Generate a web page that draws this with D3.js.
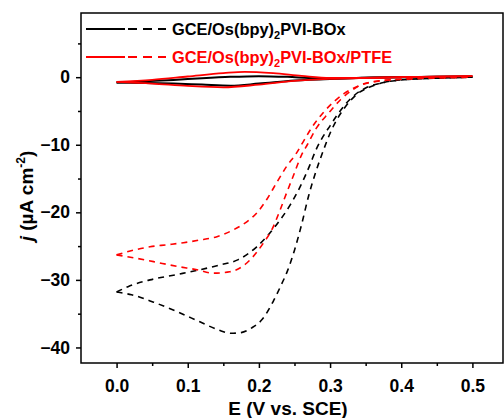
<!DOCTYPE html>
<html>
<head>
<meta charset="utf-8">
<script src="https://cdn.jsdelivr.net/npm/d3@7"></script>
<style>
  body { margin: 0; background: #fff; }
  text { font-family: "Liberation Sans", Arial, sans-serif; font-weight: bold; }
</style>
</head>
<body>
<div id="chart"></div>
<script>
(function() {
  "use strict";

  // CV loops, each branch listed in increasing E (V vs. SCE), j in uA cm-2
  var blackCvFwdE = [0, 0.04, 0.08, 0.12, 0.16, 0.2, 0.25, 0.3, 0.35, 0.4, 0.45, 0.5];
  var blackCvFwdJ = [-0.8, -0.85, -0.95, -1.1, -1.25, -0.95, -0.5, -0.25, -0.1, 0, 0.05, 0.1];
  var blackCvRevE = [0, 0.04, 0.08, 0.12, 0.16, 0.2, 0.24, 0.28, 0.32, 0.36, 0.4, 0.45, 0.5];
  var blackCvRevJ = [-0.8, -0.6, -0.4, -0.15, 0.05, 0.15, 0.05, -0.15, -0.15, -0.05, 0, 0.05, 0.1];

  var redCvFwdE = [0, 0.05, 0.1, 0.15, 0.2, 0.25, 0.3, 0.4, 0.5];
  var redCvFwdJ = [-0.7, -0.95, -1.3, -1.5, -1.1, -0.55, -0.25, 0, 0.15];
  var redCvRevE = [0, 0.05, 0.1, 0.15, 0.18, 0.22, 0.26, 0.3, 0.35, 0.4, 0.5];
  var redCvRevJ = [-0.7, -0.4, 0.1, 0.6, 0.8, 0.6, 0.2, -0.1, -0.1, 0, 0.15];

  // catalytic curves (dashed)
  var blackCatFwdE = [0, 0.021, 0.052, 0.085, 0.117, 0.143, 0.16, 0.175, 0.19, 0.205, 0.22, 0.232, 0.24,
    0.25, 0.26, 0.27, 0.28, 0.29, 0.3, 0.31, 0.32, 0.338, 0.355, 0.375, 0.4, 0.45, 0.5];
  var blackCatFwdJ = [-31.8, -32.2, -33.3, -34.7, -36.2, -37.4, -37.9, -37.8, -37.1, -35.8, -33.2, -30.6, -28.7,
    -25.6, -21.8, -17.5, -14, -11, -8.3, -6.2, -4.6, -2.5, -1.5, -0.8, -0.4, -0.15, 0];
  var blackCatRevE = [0, 0.016, 0.047, 0.085, 0.117, 0.145, 0.171, 0.197, 0.225, 0.244, 0.258, 0.272,
    0.28, 0.29, 0.3, 0.31, 0.32, 0.335, 0.35, 0.37, 0.4, 0.45, 0.5];
  var blackCatRevJ = [-31.8, -31, -30, -29.2, -28.5, -27.8, -27, -25.1, -21.8, -18.9, -16.2, -12.9,
    -10.8, -8.8, -7.2, -5.6, -4.2, -2.6, -1.6, -0.9, -0.4, -0.15, 0];

  var redCatFwdE = [0, 0.028, 0.052, 0.085, 0.113, 0.136, 0.159, 0.183, 0.206, 0.218, 0.23, 0.239,
    0.248, 0.26, 0.268, 0.281, 0.298, 0.315, 0.33, 0.342, 0.365, 0.4, 0.45, 0.5];
  var redCatFwdJ = [-26.3, -26.8, -27.3, -28, -28.5, -29, -28.8, -27.5, -24.6, -22.6, -19.6, -17.1,
    -14.7, -11.5, -10, -7.5, -5.3, -3.3, -2, -1.2, -0.6, -0.3, -0.1, 0];
  var redCatRevE = [0, 0.024, 0.047, 0.071, 0.094, 0.117, 0.141, 0.164, 0.183, 0.197, 0.211, 0.225,
    0.239, 0.253, 0.262, 0.274, 0.29, 0.32, 0.34, 0.36, 0.4, 0.45, 0.5];
  var redCatRevJ = [-26.3, -25.6, -25.1, -24.8, -24.5, -24.1, -23.6, -22.6, -21.4, -20.1, -18.1, -15.6,
    -13.2, -11.2, -9.6, -7.5, -5.3, -2.4, -1.3, -0.7, -0.3, -0.1, 0];

  var xTicks = [0, 0.1, 0.2, 0.3, 0.4, 0.5];
  var xMinorTicks = [0.05, 0.15, 0.25, 0.35, 0.45];
  var yTicks = [-40, -30, -20, -10, 0];
  var yMinorTicks = [-35, -25, -15, -5, 5];

  var legendLabels = ["GCE/Os(bpy)", "GCE/Os(bpy)"];
  var legendTails = ["PVI-BOx", "PVI-BOx/PTFE"];
  var colors = ["#000000", "#ff0000"];

  function zip(es, js) {
    return es.map(function(e, i) { return [e, js[i]]; });
  }

  var width = 504, height = 418;
  var left = 81, right = 503, top = 13, bottom = 363;

  var svg = d3.select("#chart").append("svg")
    .attr("width", width)
    .attr("height", height);

  svg.append("rect").attr("width", width).attr("height", height).attr("fill", "#fff");

  var x = d3.scaleLinear().domain([-0.05, 0.543]).range([left, right]);
  var y = d3.scaleLinear().domain([-42.3, 9.5]).range([bottom, top]);

  var line = d3.line()
    .x(function(d) { return x(d[0]); })
    .y(function(d) { return y(d[1]); })
    .curve(d3.curveMonotoneX);

  var curves = [
    { data: zip(blackCvFwdE, blackCvFwdJ), color: colors[0], dash: null, w: 2 },
    { data: zip(blackCvRevE, blackCvRevJ), color: colors[0], dash: null, w: 2 },
    { data: zip(blackCatFwdE, blackCatFwdJ), color: colors[0], dash: "6,5", w: 1.6 },
    { data: zip(blackCatRevE, blackCatRevJ), color: colors[0], dash: "6,5", w: 1.6 },
    { data: zip(redCvFwdE, redCvFwdJ), color: colors[1], dash: null, w: 1.8 },
    { data: zip(redCvRevE, redCvRevJ), color: colors[1], dash: null, w: 1.8 },
    { data: zip(redCatFwdE, redCatFwdJ), color: colors[1], dash: "6,5", w: 1.6 },
    { data: zip(redCatRevE, redCatRevJ), color: colors[1], dash: "6,5", w: 1.6 }
  ];

  var plot = svg.append("g").attr("class", "curves");
  plot.selectAll("path")
    .data(curves)
    .enter()
    .append("path")
    .attr("d", function(d) { return line(d.data); })
    .attr("fill", "none")
    .attr("stroke", function(d) { return d.color; })
    .attr("stroke-width", function(d) { return d.w; })
    .attr("stroke-dasharray", function(d) { return d.dash; });

  /* ------- FRAME & AXES -------*/

  svg.append("rect")
    .attr("x", left).attr("y", top)
    .attr("width", right - left).attr("height", bottom - top)
    .attr("fill", "none").attr("stroke", "#000").attr("stroke-width", 1.5);

  svg.append("g")
    .attr("transform", "translate(0," + bottom + ")")
    .call(d3.axisBottom(x).tickValues(xTicks).tickFormat(d3.format(".1f"))
      .tickSize(5).tickSizeOuter(0).tickPadding(12));
  svg.append("g")
    .attr("transform", "translate(0," + bottom + ")")
    .call(d3.axisBottom(x).tickValues(xMinorTicks).tickFormat("").tickSize(3).tickSizeOuter(0));

  svg.append("g")
    .attr("transform", "translate(" + left + ",0)")
    .call(d3.axisLeft(y).tickValues(yTicks).tickFormat(d3.format("d"))
      .tickSize(5).tickSizeOuter(0).tickPadding(6));
  svg.append("g")
    .attr("transform", "translate(" + left + ",0)")
    .call(d3.axisLeft(y).tickValues(yMinorTicks).tickFormat("").tickSize(3).tickSizeOuter(0));

  svg.selectAll(".domain").remove();
  svg.selectAll(".tick line").attr("stroke", "#000").attr("stroke-width", 1.5);
  svg.selectAll(".tick text")
    .attr("font-size", 17.5)
    .attr("fill", "#000");

  svg.append("text")
    .attr("x", 288)
    .attr("y", 415)
    .attr("text-anchor", "middle")
    .attr("font-size", 19)
    .text("E (V vs. SCE)");

  var yTitle = svg.append("text")
    .attr("transform", "translate(33,196) rotate(-90)")
    .attr("text-anchor", "middle")
    .attr("font-size", 19);
  yTitle.append("tspan").attr("font-style", "italic").text("j");
  yTitle.append("tspan").text(" (\u00b5A cm");
  yTitle.append("tspan").attr("font-size", 12).attr("dy", -8).text("-2");
  yTitle.append("tspan").attr("dy", 8).text(")");

  /* ------- LEGEND -------*/

  var legend = svg.append("g").attr("class", "legend");
  var legendRows = legend.selectAll("g")
    .data([0, 1])
    .enter()
    .append("g")
    .attr("transform", function(i) { return "translate(0," + (29 + i * 28) + ")"; });

  legendRows.append("line")
    .attr("x1", 86).attr("x2", 125).attr("y1", 0).attr("y2", 0)
    .attr("stroke", function(i) { return colors[i]; })
    .attr("stroke-width", 2);
  legendRows.append("line")
    .attr("x1", 128).attr("x2", 166).attr("y1", 0).attr("y2", 0)
    .attr("stroke", function(i) { return colors[i]; })
    .attr("stroke-width", 1.8)
    .attr("stroke-dasharray", "9,6");

  var lt = legendRows.append("text")
    .attr("x", 172)
    .attr("y", 6)
    .attr("font-size", 16.4)
    .attr("fill", function(i) { return colors[i]; });
  lt.append("tspan").text(function(i) { return legendLabels[i]; });
  lt.append("tspan").attr("font-size", 11).attr("dy", 4).text("2");
  lt.append("tspan").attr("dy", -4).text(function(i) { return legendTails[i]; });
})();
</script>
</body>
</html>
